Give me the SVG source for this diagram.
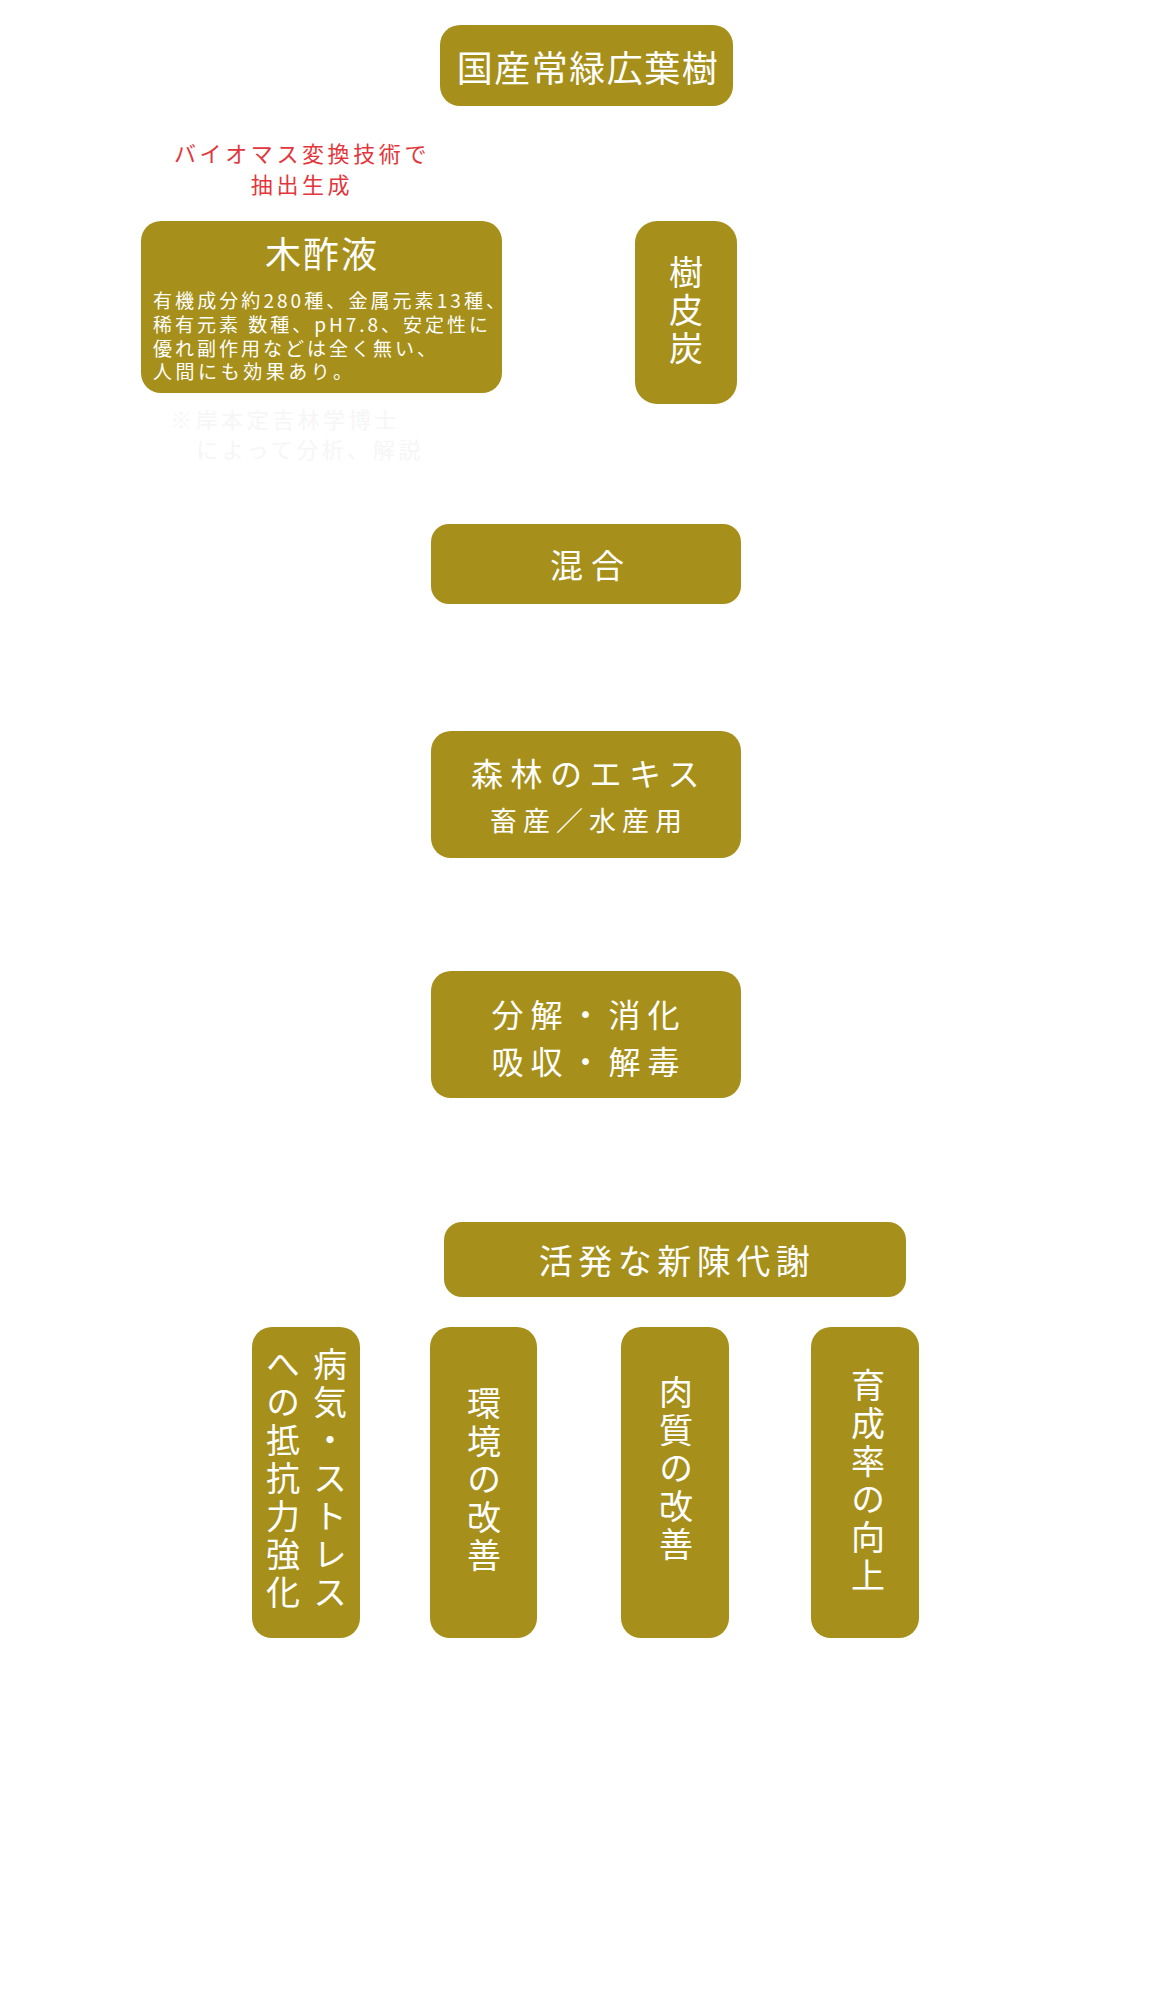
<svg xmlns="http://www.w3.org/2000/svg" width="1170" height="2000" viewBox="0 0 1170 2000">
<style>
.box{fill:#a68f1a}
.t{font-family:"Noto Sans CJK JP","Noto Sans",sans-serif;fill:#ffffff;dominant-baseline:central;text-anchor:middle}
.v{font-family:"Noto Sans CJK JP","Noto Sans",sans-serif;fill:#ffffff;writing-mode:vertical-rl;text-anchor:start;font-size:34px;letter-spacing:4px}
.red{font-family:"Noto Sans CJK JP","Noto Sans",sans-serif;fill:#e3363c;dominant-baseline:central;text-anchor:middle;font-size:22px;letter-spacing:3.6px}
.faint{font-family:"Noto Sans CJK JP","Noto Sans",sans-serif;fill:#f6f6f6;dominant-baseline:central;text-anchor:middle;font-size:22px;letter-spacing:3.5px}
.body{font-family:"Noto Sans CJK JP","Noto Sans",sans-serif;fill:#ffffff;dominant-baseline:central;font-size:19px}
</style>
<rect width="1170" height="2000" fill="#ffffff"/>
<g id="connectors"/>
<g id="node-kokusan">
<rect class="box" x="440" y="25" width="293" height="81" rx="20"/>
<text class="t" x="588" y="66" font-size="36" letter-spacing="1.5">国産常緑広葉樹</text>
</g>
<g id="label-biomass">
<text class="red" x="302" y="152">バイオマス変換技術で</text>
<text class="red" x="302" y="183">抽出生成</text>
</g>
<g id="node-mokusakueki">
<rect class="box" x="141" y="221" width="361" height="172" rx="20"/>
<text class="t" x="322" y="252" font-size="36" letter-spacing="2">木酢液</text>
<text class="body" x="153" y="299" textLength="352" lengthAdjust="spacing">有機成分約280種、金属元素13種、</text>
<text class="body" x="153" y="323.5" textLength="335" lengthAdjust="spacing">稀有元素 数種、pH7.8、安定性に</text>
<text class="body" x="153" y="347" textLength="283" lengthAdjust="spacing">優れ副作用などは全く無い、</text>
<text class="body" x="153" y="370.5" textLength="199" lengthAdjust="spacing">人間にも効果あり。</text>
</g>
<g id="note-kishimoto">
<text class="faint" x="285" y="418">※岸本定吉林学博士</text>
<text class="faint" x="310" y="448">によって分析、解説</text>
</g>
<g id="node-jubitan">
<rect class="box" x="635" y="221" width="102" height="183" rx="22"/>
<text class="v" x="686" y="255" font-size="34" letter-spacing="6">樹皮炭</text>
</g>
<g id="node-kongou">
<rect class="box" x="431" y="524" width="310" height="80" rx="18"/>
<text class="t" x="591" y="564" font-size="33" letter-spacing="8">混合</text>
</g>
<g id="node-shinrin">
<rect class="box" x="431" y="731" width="310" height="127" rx="20"/>
<text class="t" x="589" y="772" font-size="32" letter-spacing="7.5">森林のエキス</text>
<text class="t" x="589" y="819" font-size="27" letter-spacing="6">畜産／水産用</text>
</g>
<g id="node-bunkai">
<rect class="box" x="431" y="971" width="310" height="127" rx="20"/>
<text class="t" x="589" y="1013" font-size="32" letter-spacing="7">分解・消化</text>
<text class="t" x="589" y="1060" font-size="32" letter-spacing="7">吸収・解毒</text>
</g>
<g id="node-taisha">
<rect class="box" x="444" y="1222" width="462" height="75" rx="18"/>
<text class="t" x="677" y="1259.5" font-size="34" letter-spacing="5.5">活発な新陳代謝</text>
</g>
<g id="node-byouki">
<rect class="box" x="252" y="1327" width="108" height="311" rx="20"/>
<text class="v" x="330" y="1347">病気・ストレス</text>
<text class="v" x="283" y="1347">への抵抗力強化</text>
</g>
<g id="node-kankyou">
<rect class="box" x="430" y="1327" width="107" height="311" rx="20"/>
<text class="v" x="484" y="1386">環境の改善</text>
</g>
<g id="node-nikushitsu">
<rect class="box" x="621" y="1327" width="108" height="311" rx="20"/>
<text class="v" x="676" y="1375">肉質の改善</text>
</g>
<g id="node-ikusei">
<rect class="box" x="811" y="1327" width="108" height="311" rx="20"/>
<text class="v" x="868" y="1368">育成率の向上</text>
</g>
</svg>
